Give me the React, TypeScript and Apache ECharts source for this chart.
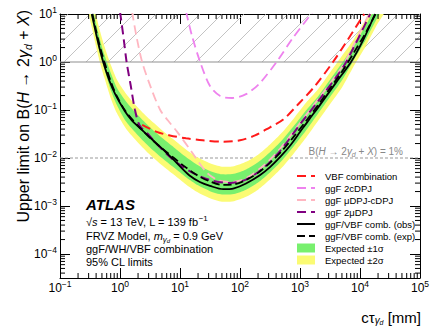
import React, { useEffect, useRef } from "react";
import * as echarts from "echarts";

const FONT = "'Liberation Sans', Arial, Helvetica, sans-serif";

// axis ranges
const X_MIN = 0.1;
const X_MAX = 1e5;
const Y_MIN = 3.1623e-5;
const Y_MAX = 10;
const HATCH_LOW = 1;
const ONE_PERCENT = 0.01;

// observed combined limit
const obsX = [0.339, 0.398, 0.457, 0.525, 0.661, 0.832, 1.2, 1.585, 2.14, 3.02, 4.17, 5.62, 7.59, 10.5, 14.8, 21.4, 31.6, 52.5, 79.4, 126, 214, 316, 468, 708, 1000, 1413, 1995, 3981, 7079, 11220, 17780];
const obsY = [10, 3.98, 1.91, 1.0, 0.417, 0.214, 0.0955, 0.0603, 0.0422, 0.0282, 0.0195, 0.0138, 9.55e-3, 6.31e-3, 4.22e-3, 3.16e-3, 2.63e-3, 2.24e-3, 2.34e-3, 2.95e-3, 4.37e-3, 6.46e-3, 0.0105, 0.0191, 0.0347, 0.0631, 0.112, 0.372, 1.0, 2.82, 10];

// expected combined limit
const expX = [0.347, 0.398, 0.468, 0.55, 0.708, 0.891, 1.26, 2.0, 3.16, 5.01, 7.94, 12.6, 20, 31.6, 50.1, 79.4, 126, 200, 316, 501, 794, 1259, 1995, 3162, 5012, 7943, 12590, 19050];
const expY = [10, 4.57, 2.0, 1.0, 0.38, 0.191, 0.0912, 0.0468, 0.0263, 0.0158, 0.01, 6.31e-3, 4.27e-3, 3.24e-3, 2.75e-3, 2.82e-3, 3.47e-3, 4.9e-3, 7.94e-3, 0.0141, 0.0282, 0.0589, 0.126, 0.282, 0.631, 1.585, 4.17, 11.2];

// expected bands
const bandX = [0.302, 0.347, 0.398, 0.468, 0.55, 0.708, 0.891, 1.26, 2.0, 3.16, 5.01, 7.94, 12.6, 20, 31.6, 50.1, 79.4, 126, 200, 316, 501, 794, 1259, 1995, 3162, 5012, 7943, 12590, 19050, 28180];
const greenLo = [15.8, 7.08, 3.24, 1.41, 0.708, 0.251, 0.126, 0.0575, 0.0295, 0.0166, 0.01, 6.31e-3, 3.98e-3, 2.69e-3, 2.04e-3, 1.74e-3, 1.78e-3, 2.19e-3, 3.09e-3, 5.01e-3, 8.91e-3, 0.0178, 0.0372, 0.0832, 0.186, 0.417, 1.12, 2.95, 7.94, 18.6];
const greenHi = [31.6, 14.1, 6.46, 2.82, 1.41, 0.575, 0.288, 0.151, 0.0776, 0.0437, 0.0263, 0.0166, 0.0105, 7.08e-3, 5.37e-3, 4.57e-3, 4.68e-3, 5.75e-3, 8.13e-3, 0.0132, 0.0234, 0.0468, 0.0977, 0.191, 0.427, 0.955, 2.24, 5.89, 15.8, 37.2];
const yellowLo = [10.5, 4.68, 2.14, 0.933, 0.468, 0.17, 0.0851, 0.0407, 0.0209, 0.0117, 7.08e-3, 4.47e-3, 2.82e-3, 1.91e-3, 1.45e-3, 1.23e-3, 1.26e-3, 1.55e-3, 2.19e-3, 3.55e-3, 6.31e-3, 0.0126, 0.0263, 0.0589, 0.132, 0.295, 0.832, 2.19, 5.89, 13.8];
const yellowHi = [47.9, 21.4, 9.77, 4.27, 2.14, 0.851, 0.427, 0.219, 0.112, 0.0631, 0.038, 0.024, 0.0151, 0.0102, 7.76e-3, 6.61e-3, 6.76e-3, 8.32e-3, 0.0117, 0.0191, 0.0339, 0.0676, 0.141, 0.269, 0.603, 1.35, 3.02, 7.94, 21.4, 50.1];

// VBF combination
const redX = [2.34, 3.98, 6.76, 12.6, 24.0, 52.5, 100, 178, 316, 525, 933, 1778, 3548, 5623, 11750];
const redY = [0.049, 0.0355, 0.0295, 0.0257, 0.0234, 0.0219, 0.0234, 0.0295, 0.0437, 0.0631, 0.132, 0.316, 1.0, 2.37, 10];

// ggF 2cDPJ
const vioX = [12.6, 15.8, 21.4, 31.6, 46.8, 74.1, 126, 214, 417, 759, 1585];
const vioY = [11.2, 3.55, 1.05, 0.316, 0.195, 0.178, 0.214, 0.363, 1.05, 3.16, 10.5];

// ggF muDPJ-cDPJ
const pinkX = [1.585, 1.905, 2.34, 3.31, 4.68, 6.31, 8.91, 15.8, 28.2, 44.7, 70.8, 126, 251, 468, 1000, 1995, 3981, 5623, 14130];
const pinkY = [11.2, 3.16, 1.0, 0.282, 0.1, 0.0603, 0.0355, 0.0132, 4.9e-3, 3.39e-3, 3.16e-3, 3.8e-3, 7.08e-3, 0.0158, 0.0537, 0.166, 0.525, 1.0, 10];

// ggF 2muDPJ
const purX = [1.0, 1.148, 1.288, 1.514, 1.778, 2.14, 3.02, 4.17, 7.94, 15.8, 31.6, 67.6, 126, 251, 468, 1000, 1995, 3981, 5888, 14790];
const purY = [11.2, 3.16, 1.0, 0.316, 0.1, 0.0468, 0.0302, 0.0191, 8.91e-3, 5.01e-3, 3.47e-3, 3.02e-3, 3.55e-3, 6.31e-3, 0.0141, 0.0501, 0.151, 0.479, 1.0, 10];

const NAMES = {
  red: "VBF combination",
  vio: "ggF 2cDPJ",
  pink: "ggF μDPJ-cDPJ",
  pur: "ggF 2μDPJ",
  obs: "ggF/VBF comb. (obs)",
  exp: "ggF/VBF comb. (exp)",
  g: "Expected ±1σ",
  y: "Expected ±2σ",
};

const GREEN = "#78f06e";
const YELLOW = "#fbfb74";

const pairs = (xs: number[], ys: number[]) => xs.map((x, i) => [x, ys[i]]);

const powLabel = (v: number) => {
  const l = Math.log10(v);
  const e = Math.round(l);
  if (Math.abs(l - e) > 0.01) return "";
  return "{b|10}{s|" + (e < 0 ? "−" + -e : String(e)) + "}";
};

const tickRich = {
  b: { fontFamily: FONT, fontSize: 12, color: "#000", lineHeight: 18 },
  s: { fontFamily: FONT, fontSize: 8.5, color: "#000", lineHeight: 10, verticalAlign: "top" },
};

function bandRender(xs: number[], lo: number[], hi: number[], color: string) {
  return (params: any, api: any) => {
    if (params.dataIndex !== 0) return null;
    const pts: number[][] = [];
    for (let i = 0; i < xs.length; i++) pts.push(api.coord([xs[i], hi[i]]));
    for (let i = xs.length - 1; i >= 0; i--) pts.push(api.coord([xs[i], lo[i]]));
    return { type: "polygon", shape: { points: pts, smooth: 0.25 }, style: { fill: color } };
  };
}

function lineSeries(name: string, xs: number[], ys: number[], color: string, width: number, dash: any) {
  return {
    name,
    type: "line",
    data: pairs(xs, ys),
    showSymbol: false,
    symbol: "none",
    smooth: 0.3,
    lineStyle: { color, width, type: dash, cap: "butt" },
    itemStyle: { color },
    z: 5,
  };
}

const hidden = { itemStyle: { opacity: 0 } };

export default function App() {
  const ref = useRef<HTMLDivElement>(null);
  useEffect(() => {
    if (!ref.current) return;
    const chart = echarts.init(ref.current, undefined, { renderer: "svg" });
    const axisCommon = {
      type: "log",
      logBase: 10,
      axisLine: { show: true, lineStyle: { color: "#000", width: 1 } },
      axisTick: { show: true, inside: true, length: 10, lineStyle: { color: "#000", width: 1 } },
      splitLine: { show: false },
    };
    const option: any = {
      animation: false,
      backgroundColor: "#fff",
      grid: { left: 60, right: 13, top: 14, bottom: 50, containLabel: false },
      xAxis: [
        {
          ...axisCommon,
          min: X_MIN,
          max: X_MAX,
          position: "bottom",
          axisLabel: { formatter: powLabel, rich: tickRich, margin: 1, color: "#000" },
        },
        { ...axisCommon, min: X_MIN, max: X_MAX, position: "top", axisLabel: { show: false } },
      ],
      yAxis: [
        {
          ...axisCommon,
          min: Y_MIN,
          max: Y_MAX,
          position: "left",
          axisLabel: { formatter: powLabel, rich: tickRich, margin: 3, color: "#000" },
        },
        { ...axisCommon, min: Y_MIN, max: Y_MAX, position: "right", axisLabel: { show: false } },
      ],
      legend: {
        orient: "vertical",
        left: 291,
        top: 166,
        itemWidth: 18,
        itemHeight: 9,
        itemGap: 2,
        selectedMode: false,
        textStyle: { fontFamily: FONT, fontSize: 9.5, color: "#000", lineHeight: 9, padding: [0, 0, 0, 5] },
        data: [
          { name: NAMES.red, ...hidden },
          { name: NAMES.vio, ...hidden },
          { name: NAMES.pink, ...hidden },
          { name: NAMES.pur, ...hidden },
          { name: NAMES.obs, ...hidden },
          { name: NAMES.exp, ...hidden },
          { name: NAMES.g, icon: "rect" },
          { name: NAMES.y, icon: "rect" },
        ],
      },
      series: [
        {
          name: "hatch",
          type: "custom",
          silent: true,
          clip: true,
          z: 1,
          data: [[X_MIN, HATCH_LOW]],
          renderItem: (params: any, api: any) => {
            const p0 = api.coord([X_MIN, Y_MAX]);
            const p1 = api.coord([X_MAX, HATCH_LOW]);
            const x0 = p0[0], y0 = p0[1], x1 = p1[0], y1 = p1[1];
            const children: any[] = [];
            for (let c = x0 + y0 + 8; c <= x1 + y1; c += 22) {
              const a = Math.max(x0, c - y1);
              const b = Math.min(x1, c - y0);
              if (b > a)
                children.push({
                  type: "line",
                  shape: { x1: a, y1: c - a, x2: b, y2: c - b },
                  style: { stroke: "#b4b4b4", lineWidth: 0.8 },
                });
            }
            return { type: "group", children };
          },
        },
        {
          name: "onePercent",
          type: "line",
          silent: true,
          data: [[X_MIN, ONE_PERCENT], [X_MAX, ONE_PERCENT]],
          showSymbol: false,
          symbol: "none",
          lineStyle: { color: "#999", width: 1, type: [3, 2] },
          z: 2,
        },
        {
          name: NAMES.y,
          type: "custom",
          clip: true,
          z: 3,
          itemStyle: { color: YELLOW },
          encode: { x: 0, y: [1, 2] },
          data: bandX.map((x, i) => [x, yellowLo[i], yellowHi[i]]),
          renderItem: bandRender(bandX, yellowLo, yellowHi, YELLOW),
        },
        {
          name: NAMES.g,
          type: "custom",
          clip: true,
          z: 3,
          itemStyle: { color: GREEN },
          encode: { x: 0, y: [1, 2] },
          data: bandX.map((x, i) => [x, greenLo[i], greenHi[i]]),
          renderItem: bandRender(bandX, greenLo, greenHi, GREEN),
        },
        {
          name: "unity",
          type: "line",
          silent: true,
          data: [[X_MIN, HATCH_LOW], [X_MAX, HATCH_LOW]],
          showSymbol: false,
          symbol: "none",
          lineStyle: { color: "#909090", width: 1.2 },
          z: 4,
        },
        lineSeries(NAMES.red, redX, redY, "#ff1a1a", 2, [9, 5]),
        lineSeries(NAMES.vio, vioX, vioY, "#ee82ee", 1.8, [9, 5]),
        lineSeries(NAMES.pink, pinkX, pinkY, "#ffb6c1", 1.8, [9, 5]),
        lineSeries(NAMES.pur, purX, purY, "#800080", 2, [9, 5]),
        lineSeries(NAMES.exp, expX, expY, "#000", 1.8, [8, 4]),
        lineSeries(NAMES.obs, obsX, obsY, "#000", 1.8, "solid"),
        {
          name: "minorTicks",
          type: "custom",
          silent: true,
          clip: false,
          z: 10,
          data: [[X_MIN, Y_MIN]],
          renderItem: (params: any, api: any) => {
            const children: any[] = [];
            const bl = api.coord([X_MIN, Y_MIN]);
            const tr = api.coord([X_MAX, Y_MAX]);
            const st = { stroke: "#000", lineWidth: 1 };
            for (let d = -1; d < 5; d++) {
              for (let m = 2; m < 10; m++) {
                const px = api.coord([m * Math.pow(10, d), Y_MIN])[0];
                children.push({ type: "line", shape: { x1: px, y1: bl[1], x2: px, y2: bl[1] - 5 }, style: st });
                children.push({ type: "line", shape: { x1: px, y1: tr[1], x2: px, y2: tr[1] + 5 }, style: st });
              }
            }
            for (let d = -5; d < 1; d++) {
              for (let m = 2; m < 10; m++) {
                const v = m * Math.pow(10, d);
                if (v < Y_MIN || v > Y_MAX) continue;
                const py = api.coord([X_MIN, v])[1];
                children.push({ type: "line", shape: { x1: bl[0], y1: py, x2: bl[0] + 5, y2: py }, style: st });
                children.push({ type: "line", shape: { x1: tr[0], y1: py, x2: tr[0] - 5, y2: py }, style: st });
              }
            }
            return { type: "group", children };
          },
        },
      ],
      graphic: [
        {
          type: "text",
          x: 23,
          y: 10,
          rotation: Math.PI / 2,
          style: {
            text: "{n|Upper limit on B(}{i|H}{n| → 2}{i|γ}{sub|d}{n| + }{i|X}{n|)}",
            align: "right",
            verticalAlign: "middle",
            rich: {
              n: { fontFamily: FONT, fontSize: 16, fill: "#000", lineHeight: 20 },
              i: { fontFamily: FONT, fontSize: 16, fill: "#000", fontStyle: "italic", lineHeight: 20 },
              sub: { fontFamily: FONT, fontSize: 10.5, fill: "#000", fontStyle: "italic", lineHeight: 12, verticalAlign: "bottom" },
            },
          },
        },
        {
          type: "text",
          x: 421,
          y: 317,
          style: {
            text: "{n|cτ}{sub|γ}{sub2|d}{n| [mm]}",
            align: "right",
            verticalAlign: "middle",
            rich: {
              n: { fontFamily: FONT, fontSize: 15, fill: "#000", lineHeight: 17 },
              sub: { fontFamily: FONT, fontSize: 10, fill: "#000", fontStyle: "italic", lineHeight: 11, verticalAlign: "bottom" },
              sub2: { fontFamily: FONT, fontSize: 7, fill: "#000", fontStyle: "italic", lineHeight: 8, verticalAlign: "bottom" },
            },
          },
        },
        {
          type: "text",
          x: 86,
          y: 204,
          style: {
            text: "ATLAS",
            fontFamily: FONT,
            fontSize: 15,
            fontWeight: "bold",
            fontStyle: "italic",
            fill: "#000",
            verticalAlign: "middle",
          },
        },
        {
          type: "text",
          x: 86,
          y: 222,
          style: {
            text: "{n|√}{i|s}{n| = 13 TeV, L = 139 fb}{sup|−1}",
            verticalAlign: "middle",
            rich: {
              n: { fontFamily: FONT, fontSize: 11, fill: "#000", lineHeight: 15 },
              i: { fontFamily: FONT, fontSize: 11, fill: "#000", fontStyle: "italic", lineHeight: 15 },
              sup: { fontFamily: FONT, fontSize: 8, fill: "#000", lineHeight: 9, verticalAlign: "top" },
            },
          },
        },
        {
          type: "text",
          x: 86,
          y: 236,
          style: {
            text: "{n|FRVZ Model, }{i|m}{sub|γ}{sub2|d}{n| = 0.9 GeV}",
            verticalAlign: "middle",
            rich: {
              n: { fontFamily: FONT, fontSize: 11, fill: "#000", lineHeight: 15 },
              i: { fontFamily: FONT, fontSize: 11, fill: "#000", fontStyle: "italic", lineHeight: 15 },
              sub: { fontFamily: FONT, fontSize: 8, fill: "#000", fontStyle: "italic", lineHeight: 10, verticalAlign: "bottom" },
              sub2: { fontFamily: FONT, fontSize: 6, fill: "#000", fontStyle: "italic", lineHeight: 8, verticalAlign: "bottom" },
            },
          },
        },
        {
          type: "text",
          x: 86,
          y: 249,
          style: { text: "ggF/WH/VBF combination", fontFamily: FONT, fontSize: 11, fill: "#000", verticalAlign: "middle" },
        },
        {
          type: "text",
          x: 86,
          y: 262,
          style: { text: "95% CL limits", fontFamily: FONT, fontSize: 11, fill: "#000", verticalAlign: "middle" },
        },
        {
          type: "text",
          x: 403,
          y: 151,
          style: {
            text: "{n|B(}{i|H}{n| → 2}{i|γ}{sub|d}{n| + }{i|X}{n|) = 1%}",
            align: "right",
            verticalAlign: "middle",
            rich: {
              n: { fontFamily: FONT, fontSize: 10, fill: "#888", lineHeight: 13 },
              i: { fontFamily: FONT, fontSize: 10, fill: "#888", fontStyle: "italic", lineHeight: 13 },
              sub: { fontFamily: FONT, fontSize: 7, fill: "#888", fontStyle: "italic", lineHeight: 8, verticalAlign: "bottom" },
            },
          },
        },
      ],
    };
    chart.setOption(option);
    return () => chart.dispose();
  }, []);
  return <div ref={ref} style={{ position: "absolute", left: 0, top: 0, width: 433, height: 328 }} />;
}
